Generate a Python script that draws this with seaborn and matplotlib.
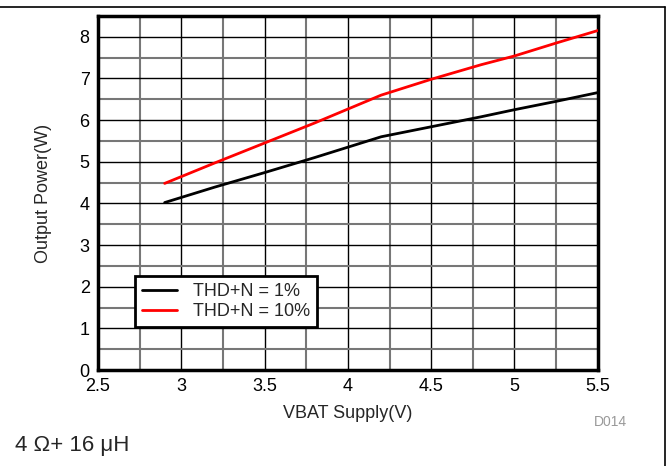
import matplotlib
matplotlib.use("Agg")
import matplotlib.pyplot as plt
from matplotlib.lines import Line2D
import pandas as pd
import seaborn as sns

# values
vbat = [2.9, 3.2, 3.5, 3.8, 4.2, 4.5, 4.8, 5.0, 5.25, 5.5]
p_thd1 = [4.02, 4.39, 4.74, 5.10, 5.60, 5.84, 6.08, 6.25, 6.45, 6.66]
p_thd10 = [4.48, 4.97, 5.45, 5.93, 6.60, 6.98, 7.33, 7.54, 7.85, 8.15]
series_names = ["THD+N = 1%", "THD+N = 10%"]
x_ticks = [2.5, 3, 3.5, 4, 4.5, 5, 5.5]
y_ticks = [0, 1, 2, 3, 4, 5, 6, 7, 8]

df = pd.concat([
    pd.DataFrame({"vbat": vbat, "power": p_thd1, "series": series_names[0]}),
    pd.DataFrame({"vbat": vbat, "power": p_thd10, "series": series_names[1]}),
])

sns.set_style("white")
plt.rcParams["font.family"] = ["Liberation Sans", "DejaVu Sans"]

fig = plt.figure(figsize=(6.69, 4.66), dpi=100)
ax = fig.add_axes([0.1465, 0.206, 0.747, 0.7597])

sns.lineplot(data=df, x="vbat", y="power", hue="series",
             palette=["black", "#ff0000"], linewidth=2, ax=ax, zorder=3)

ax.set_xlim(2.5, 5.5)
ax.set_ylim(0, 8.5)
ax.set_xticks(x_ticks)
ax.set_xticklabels([f"{t:g}" for t in x_ticks])
ax.set_xticks([2.75 + 0.5 * i for i in range(6)], minor=True)
ax.set_yticks(y_ticks)
ax.set_yticks([0.5 + i for i in range(9)], minor=True)
ax.grid(True, which="major", color="black", linewidth=1)
ax.grid(True, which="minor", color="#777777", linewidth=1.5)
ax.tick_params(which="both", length=0, labelsize=13, pad=6, colors="black")
for s in ax.spines.values():
    s.set_linewidth(2.5)
    s.set_color("black")

ax.set_xlabel("VBAT Supply(V)", fontsize=13, labelpad=7)
ax.set_ylabel("Output Power(W)", fontsize=13, labelpad=20)

leg = ax.legend(loc="lower left", bbox_to_anchor=(0.074, 0.121), borderaxespad=0,
                fontsize=13, frameon=True, fancybox=False, handlelength=1.9,
                borderpad=0.4, labelspacing=0.15, handletextpad=0.9)
leg.get_frame().set_edgecolor("black")
leg.get_frame().set_linewidth(2)
leg.get_frame().set_alpha(1)

fig.text(0.912, 0.094, "D014", fontsize=10, color="#999999", ha="center", va="center")
fig.text(0.022, 0.045, "4 Ω+ 16 μH", fontsize=16, ha="left", va="center")

# partial frame around the figure (top and right edges)
fig.add_artist(Line2D([0, 0.994], [0.986, 0.986], color="black", linewidth=1.2,
                      transform=fig.transFigure))
fig.add_artist(Line2D([0.994, 0.994], [0, 0.986], color="black", linewidth=1.2,
                      transform=fig.transFigure))

fig.savefig("out.png", dpi=100)
